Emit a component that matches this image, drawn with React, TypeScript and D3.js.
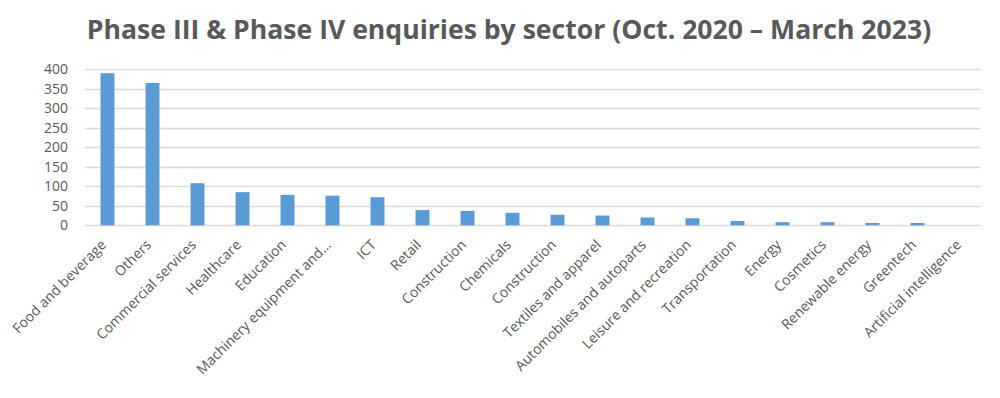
import { useEffect, useRef } from 'react';
import * as d3 from 'd3';

const sectors = [
  'Food and beverage',
  'Others',
  'Commercial services',
  'Healthcare',
  'Education',
  'Machinery equipment and...',
  'ICT',
  'Retail',
  'Construction',
  'Chemicals',
  'Construction ',
  'Textiles and apparel',
  'Automobiles and autoparts',
  'Leisure and recreation',
  'Transportation',
  'Energy',
  'Cosmetics',
  'Renewable energy',
  'Greentech',
  'Artificial intelligence',
];

const enquiries = [390, 365, 108, 85, 78, 76, 72, 39, 37, 32, 27, 25, 20, 18, 11, 8, 8, 6, 6, 0];

const yTicks = [0, 50, 100, 150, 200, 250, 300, 350, 400];

const TITLE = 'Phase III & Phase IV enquiries by sector (Oct. 2020 \u2013 March 2023)';

const WIDTH = 1000;
const HEIGHT = 398;
const TEXT = '#595959';
const BAR = '#5b9bd5';
const GRID = '#d9d9d9';
const FONT = '"Open Sans", "Noto Sans", sans-serif';

export default function App() {
  const svgRef = useRef<SVGSVGElement>(null);

  useEffect(() => {
    if (!svgRef.current) return;
    const svg = d3.select(svgRef.current);
    svg.selectAll('*').remove();

    const left = 85;
    const right = 985;
    const top = 69.3;
    const bottom = 225.3;

    const x = d3
      .scaleBand<number>()
      .domain(d3.range(sectors.length))
      .range([left, right])
      .paddingInner(0.69)
      .paddingOuter(0.345);

    const y = d3.scaleLinear().domain([0, 400]).range([bottom, top]);

    // Title
    svg
      .append('text')
      .attr('x', 509)
      .attr('y', 39)
      .attr('text-anchor', 'middle')
      .attr('fill', TEXT)
      .attr('font-family', FONT)
      .attr('font-weight', 'bold')
      .attr('font-size', 26.6)
      .text(TITLE);

    // Gridlines
    svg
      .append('g')
      .selectAll('line')
      .data(yTicks)
      .join('line')
      .attr('x1', left)
      .attr('x2', right - 5)
      .attr('y1', (d) => Math.round(y(d)) + 0.5)
      .attr('y2', (d) => Math.round(y(d)) + 0.5)
      .attr('stroke', GRID)
      .attr('stroke-width', 1.3);

    // Y tick labels
    svg
      .append('g')
      .selectAll('text')
      .data(yTicks)
      .join('text')
      .attr('x', 68)
      .attr('y', (d) => y(d))
      .attr('dy', '0.35em')
      .attr('text-anchor', 'end')
      .attr('fill', TEXT)
      .attr('font-family', FONT)
      .attr('font-size', 14)
      .text((d) => d);

    // Bars
    svg
      .append('g')
      .selectAll('rect')
      .data(enquiries)
      .join('rect')
      .attr('x', (_, i) => x(i)!)
      .attr('width', x.bandwidth())
      .attr('y', (d) => y(d))
      .attr('height', (d) => bottom - y(d))
      .attr('fill', BAR);

    // X tick labels
    svg
      .append('g')
      .selectAll('text')
      .data(sectors)
      .join('text')
      .attr('text-anchor', 'end')
      .attr('transform', (_, i) => {
        const cx = x(i)! + x.bandwidth() / 2 - 4;
        return `translate(${cx},${bottom + 17}) rotate(-45)`;
      })
      .attr('dy', '0.35em')
      .attr('fill', TEXT)
      .attr('font-family', FONT)
      .attr('font-size', 14)
      .text((d) => d.trim());
  }, []);

  return (
    <svg
      ref={svgRef}
      width={WIDTH}
      height={HEIGHT}
      style={{ position: 'absolute', left: 0, top: 0, background: '#fff' }}
    />
  );
}
